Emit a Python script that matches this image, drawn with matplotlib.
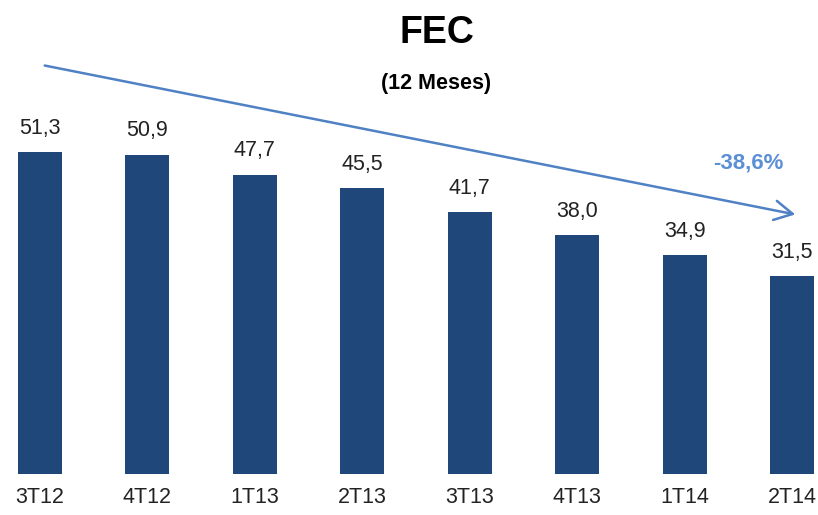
import matplotlib.pyplot as plt
from matplotlib import font_manager
from matplotlib.patches import FancyArrowPatch

periods = ["3T12", "4T12", "1T13", "2T13", "3T13", "4T13", "1T14", "2T14"]
fec = [51.3, 50.9, 47.7, 45.5, 41.7, 38.0, 34.9, 31.5]
change_label = "-38,6%"

names = {f.name for f in font_manager.fontManager.ttflist}
narrow = "Liberation Sans Narrow" if "Liberation Sans Narrow" in names else "Liberation Sans"
plt.rcParams['font.family'] = [narrow, 'DejaVu Sans']

bar_color = "#1F477A"
arrow_color = "#4F81C4"

W, H = 818, 515
fig = plt.figure(figsize=(W / 100, H / 100), dpi=100)
ax = fig.add_axes([0, 41 / H, 1, 1 - 41 / H])

x = list(range(len(periods)))
ax.bar(x, fec, width=0.41, color=bar_color, zorder=2)
for xi, v in zip(x, fec):
    ax.text(xi, v + 2.1, f"{v:.1f}".replace(".", ","), ha="center", va="bottom",
            fontsize=15.5, color="#222222")

ax.set_xlim(-40 / 107.43, 7 + 26 / 107.43)
ax.set_ylim(0, 474 / 6.277)
ax.axis("off")

for xi, lab in zip(x, periods):
    ax.text(xi, -3.7, lab, ha="center", va="center", fontsize=15.5, color="#222222")

fig.text(437 / W, 1 - 33 / H, "FEC", ha="center", va="center",
         fontsize=27, fontweight="bold")
fig.text(436 / W, 1 - 83 / H, "(12 Meses)", ha="center", va="center",
         fontsize=15.5, fontweight="bold")

fig.patches.append(FancyArrowPatch(
    (42 / W, 1 - 65 / H), (798 / W, 1 - 215 / H), transform=fig.transFigure,
    arrowstyle="->,head_length=13,head_width=7", color=arrow_color, lw=1.8,
    mutation_scale=1))
fig.text(748 / W, 1 - 163 / H, change_label, ha="center", va="center",
         fontsize=16, fontweight="bold", color="#5B8FD6")

fig.savefig("out.png", dpi=100)
